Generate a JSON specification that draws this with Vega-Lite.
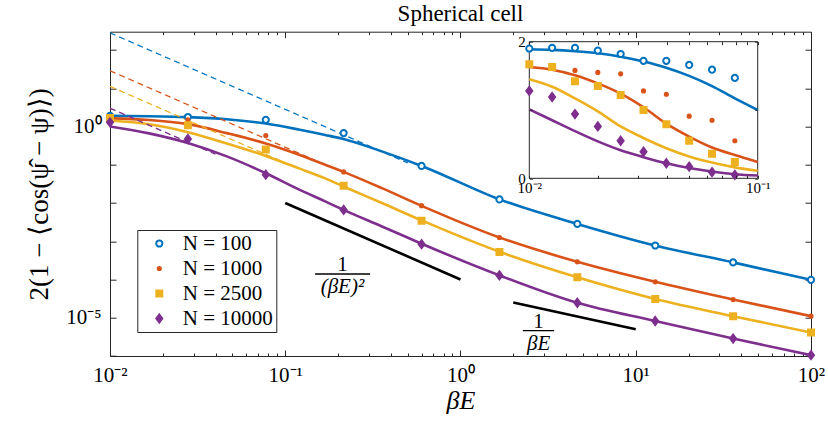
{
 "$schema": "https://vega.github.io/schema/vega-lite/v6.json",
 "width": 701,
 "height": 324.3,
 "autosize": {"type": "none"},
 "padding": {"left": 110, "top": 31.7, "right": 17, "bottom": 65},
 "title": {"text": "Spherical cell", "font": "Liberation Serif", "fontSize": 23, "fontWeight": "normal", "color": "#000000", "offset": 5, "anchor": "middle"},
 "datasets": {
  "lines": [
   {"n":"100","x":0.01,"y":1.89},{"n":"100","x":0.0167,"y":1.85},{"n":"100","x":0.0278,"y":1.75},{"n":"100","x":0.0464,"y":1.54},{"n":"100","x":0.0774,"y":1.19},{"n":"100","x":0.121,"y":0.82},{"n":"100","x":0.169,"y":0.6},{"n":"100","x":0.215,"y":0.47},{"n":"100","x":0.359,"y":0.22},{"n":"100","x":0.6,"y":0.093},{"n":"100","x":1.67,"y":0.0124},{"n":"100","x":4.64,"y":0.00284},{"n":"100","x":12.9,"y":0.000774},{"n":"100","x":35.9,"y":0.00028},{"n":"100","x":100,"y":0.000098},
   {"n":"1000","x":0.01,"y":1.63},{"n":"1000","x":0.0167,"y":1.48},{"n":"1000","x":0.0278,"y":1.15},{"n":"1000","x":0.0464,"y":0.67},{"n":"1000","x":0.0774,"y":0.36},{"n":"1000","x":0.121,"y":0.18},{"n":"1000","x":0.169,"y":0.1},{"n":"1000","x":0.215,"y":0.065},{"n":"1000","x":0.359,"y":0.024},{"n":"1000","x":0.6,"y":0.0084},{"n":"1000","x":1.67,"y":0.00125},{"n":"1000","x":4.64,"y":0.00029},{"n":"1000","x":12.9,"y":0.000087},{"n":"1000","x":35.9,"y":0.00003},{"n":"1000","x":100,"y":0.000011},
   {"n":"2500","x":0.01,"y":1.43},{"n":"2500","x":0.0167,"y":1.14},{"n":"2500","x":0.0278,"y":0.71},{"n":"2500","x":0.0464,"y":0.36},{"n":"2500","x":0.0774,"y":0.17},{"n":"2500","x":0.121,"y":0.079},{"n":"2500","x":0.169,"y":0.044},{"n":"2500","x":0.215,"y":0.027},{"n":"2500","x":0.359,"y":0.0098},{"n":"2500","x":0.6,"y":0.0035},{"n":"2500","x":1.67,"y":0.00053},{"n":"2500","x":4.64,"y":0.000114},{"n":"2500","x":12.9,"y":0.000031},{"n":"2500","x":35.9,"y":0.000011},{"n":"2500","x":100,"y":0.0000041},
   {"n":"10000","x":0.01,"y":1.0},{"n":"10000","x":0.0167,"y":0.66},{"n":"10000","x":0.0278,"y":0.37},{"n":"10000","x":0.0464,"y":0.165},{"n":"10000","x":0.0774,"y":0.06},{"n":"10000","x":0.121,"y":0.022},{"n":"10000","x":0.169,"y":0.011},{"n":"10000","x":0.215,"y":0.0066},{"n":"10000","x":0.359,"y":0.0024},{"n":"10000","x":0.6,"y":0.00086},{"n":"10000","x":1.67,"y":0.000128},{"n":"10000","x":4.64,"y":0.0000246},{"n":"10000","x":12.9,"y":0.0000082},{"n":"10000","x":35.9,"y":0.00000285},{"n":"10000","x":100,"y":0.00000105}
  ],
  "dashed": [
   {"n":"100","x":0.01,"y":280},{"n":"100","x":0.5,"y":0.112},
   {"n":"1000","x":0.01,"y":28.6},{"n":"1000","x":0.15,"y":0.127},
   {"n":"2500","x":0.01,"y":11.2},{"n":"2500","x":0.1,"y":0.112},
   {"n":"10000","x":0.01,"y":3.0},{"n":"10000","x":0.04,"y":0.1875}
  ],
  "markers": [
   {"N":"N = 100","x":0.01,"y":1.9},{"N":"N = 100","x":0.02783,"y":1.77},{"N":"N = 100","x":0.07743,"y":1.49},{"N":"N = 100","x":0.2154,"y":0.67},{"N":"N = 100","x":0.5995,"y":0.093},{"N":"N = 100","x":1.668,"y":0.0124},{"N":"N = 100","x":4.642,"y":0.00284},{"N":"N = 100","x":12.92,"y":0.000774},{"N":"N = 100","x":35.94,"y":0.00028},{"N":"N = 100","x":100,"y":0.000098},
   {"N":"N = 1000","x":0.01,"y":1.68},{"N":"N = 1000","x":0.02783,"y":1.5},{"N":"N = 1000","x":0.07743,"y":0.58},{"N":"N = 1000","x":0.2154,"y":0.065},{"N":"N = 1000","x":0.5995,"y":0.0085},{"N":"N = 1000","x":1.668,"y":0.00125},{"N":"N = 1000","x":4.642,"y":0.00029},{"N":"N = 1000","x":12.92,"y":0.000087},{"N":"N = 1000","x":35.94,"y":0.00003},{"N":"N = 1000","x":100,"y":0.000011},
   {"N":"N = 2500","x":0.01,"y":1.67},{"N":"N = 2500","x":0.02783,"y":1.08},{"N":"N = 2500","x":0.07743,"y":0.25},{"N":"N = 2500","x":0.2154,"y":0.028},{"N":"N = 2500","x":0.5995,"y":0.00345},{"N":"N = 2500","x":1.668,"y":0.00052},{"N":"N = 2500","x":4.642,"y":0.000114},{"N":"N = 2500","x":12.92,"y":0.000031},{"N":"N = 2500","x":35.94,"y":0.000011},{"N":"N = 2500","x":100,"y":0.0000041},
   {"N":"N = 10000","x":0.01,"y":1.28},{"N":"N = 10000","x":0.02783,"y":0.47},{"N":"N = 10000","x":0.07743,"y":0.055},{"N":"N = 10000","x":0.2154,"y":0.0066},{"N":"N = 10000","x":0.5995,"y":0.00084},{"N":"N = 10000","x":1.668,"y":0.000128},{"N":"N = 10000","x":4.642,"y":0.0000246},{"N":"N = 10000","x":12.92,"y":0.0000082},{"N":"N = 10000","x":35.94,"y":0.00000285},{"N":"N = 10000","x":100,"y":0.00000105}
  ],
  "slopes": [
   {"g":"a","x":0.1,"y":0.01},{"g":"a","x":1,"y":0.0001},
   {"g":"b","x":2,"y":0.000025},{"g":"b","x":10,"y":0.000005}
  ],
  "fracs": [
   {"x":0.212,"x1":0.148,"x2":0.305,"y":0.000139,"num":"1","den":"(βE)²"},
   {"x":2.79,"x1":2.27,"x2":3.42,"y":0.00000459,"num":"1","den":"βE"}
  ],
  "insetBox": [{"x1":0.01,"x2":0.1,"y1":0,"y2":2}],
  "insetLines": [
   {"n":"100","x":0.01,"y":1.89},{"n":"100","x":0.012589,"y":1.88},{"n":"100","x":0.015849,"y":1.86},{"n":"100","x":0.019953,"y":1.83},{"n":"100","x":0.025119,"y":1.78},{"n":"100","x":0.031623,"y":1.71},{"n":"100","x":0.039811,"y":1.62},{"n":"100","x":0.050119,"y":1.5},{"n":"100","x":0.063096,"y":1.35},{"n":"100","x":0.079433,"y":1.17},{"n":"100","x":0.1,"y":1.0},
   {"n":"1000","x":0.01,"y":1.63},{"n":"1000","x":0.012589,"y":1.59},{"n":"1000","x":0.015849,"y":1.51},{"n":"1000","x":0.019953,"y":1.39},{"n":"1000","x":0.025119,"y":1.24},{"n":"1000","x":0.031623,"y":1.04},{"n":"1000","x":0.039811,"y":0.8},{"n":"1000","x":0.050119,"y":0.61},{"n":"1000","x":0.063096,"y":0.45},{"n":"1000","x":0.079433,"y":0.34},{"n":"1000","x":0.1,"y":0.24},
   {"n":"2500","x":0.01,"y":1.45},{"n":"2500","x":0.012589,"y":1.34},{"n":"2500","x":0.015849,"y":1.17},{"n":"2500","x":0.019953,"y":0.98},{"n":"2500","x":0.025119,"y":0.76},{"n":"2500","x":0.031623,"y":0.59},{"n":"2500","x":0.039811,"y":0.44},{"n":"2500","x":0.050119,"y":0.32},{"n":"2500","x":0.063096,"y":0.23},{"n":"2500","x":0.079433,"y":0.16},{"n":"2500","x":0.1,"y":0.11},
   {"n":"10000","x":0.01,"y":1.01},{"n":"10000","x":0.012589,"y":0.85},{"n":"10000","x":0.015849,"y":0.69},{"n":"10000","x":0.019953,"y":0.54},{"n":"10000","x":0.025119,"y":0.41},{"n":"10000","x":0.031623,"y":0.31},{"n":"10000","x":0.039811,"y":0.22},{"n":"10000","x":0.050119,"y":0.15},{"n":"10000","x":0.063096,"y":0.1},{"n":"10000","x":0.079433,"y":0.06},{"n":"10000","x":0.1,"y":0.04}
  ],
  "insetMarkers": [
   {"N":"N = 100","x":0.01,"y":1.9},{"N":"N = 100","x":0.012589,"y":1.91},{"N":"N = 100","x":0.015849,"y":1.91},{"N":"N = 100","x":0.019953,"y":1.87},{"N":"N = 100","x":0.025119,"y":1.82},{"N":"N = 100","x":0.031623,"y":1.72},{"N":"N = 100","x":0.039811,"y":1.72},{"N":"N = 100","x":0.050119,"y":1.66},{"N":"N = 100","x":0.063096,"y":1.59},{"N":"N = 100","x":0.079433,"y":1.47},
   {"N":"N = 1000","x":0.01,"y":1.68},{"N":"N = 1000","x":0.012589,"y":1.65},{"N":"N = 1000","x":0.015849,"y":1.58},{"N":"N = 1000","x":0.019953,"y":1.55},{"N":"N = 1000","x":0.025119,"y":1.53},{"N":"N = 1000","x":0.031623,"y":1.28},{"N":"N = 1000","x":0.039811,"y":1.23},{"N":"N = 1000","x":0.050119,"y":0.91},{"N":"N = 1000","x":0.063096,"y":0.85},{"N":"N = 1000","x":0.079433,"y":0.55},
   {"N":"N = 2500","x":0.01,"y":1.67},{"N":"N = 2500","x":0.012589,"y":1.63},{"N":"N = 2500","x":0.015849,"y":1.42},{"N":"N = 2500","x":0.019953,"y":1.35},{"N":"N = 2500","x":0.025119,"y":1.22},{"N":"N = 2500","x":0.031623,"y":1.0},{"N":"N = 2500","x":0.039811,"y":0.79},{"N":"N = 2500","x":0.050119,"y":0.55},{"N":"N = 2500","x":0.063096,"y":0.36},{"N":"N = 2500","x":0.079433,"y":0.24},
   {"N":"N = 10000","x":0.01,"y":1.28},{"N":"N = 10000","x":0.012589,"y":1.19},{"N":"N = 10000","x":0.015849,"y":0.94},{"N":"N = 10000","x":0.019953,"y":0.76},{"N":"N = 10000","x":0.025119,"y":0.55},{"N":"N = 10000","x":0.031623,"y":0.39},{"N":"N = 10000","x":0.039811,"y":0.22},{"N":"N = 10000","x":0.050119,"y":0.17},{"N":"N = 10000","x":0.063096,"y":0.09},{"N":"N = 10000","x":0.079433,"y":0.05}
  ]
 },
 "layer": [
  {
   "data": {"name": "lines"},
   "mark": {"type": "line", "strokeWidth": 2.6, "interpolate": "monotone", "clip": true},
   "encoding": {
    "x": {"field": "x", "type": "quantitative", "scale": {"type": "log", "domain": [0.01, 100], "nice": false},
          "axis": {"orient": "bottom", "values": [0.01, 0.1, 1, 10, 100], "ticks": false, "domain": true, "labelExpr": "'10' + (datum.value < 0.05 ? '⁻²' : datum.value < 0.5 ? '⁻¹' : datum.value < 5 ? '⁰' : datum.value < 50 ? '¹' : '²')", "labelFontSize": 21, "labelPadding": 8, "title": "βE", "titleFontSize": 26, "titleFontStyle": "italic", "titlePadding": 2}},
    "y": {"field": "y", "type": "quantitative", "scale": {"type": "log", "domain": [0.000001, 300], "nice": false},
          "axis": {"orient": "left", "values": [0.000001, 0.00001, 0.0001, 0.001, 0.01, 0.1, 1, 10, 100], "ticks": false, "domain": true, "labelExpr": "datum.value == 1 ? '10⁰' : (datum.value == 0.00001 ? '10⁻⁵' : '')", "labelFontSize": 21, "labelPadding": 9, "title": "2(1 − ⟨cos(ψ̂ − ψ)⟩)    ", "titleFontSize": 27, "titlePadding": 12}},
    "color": {"field": "n", "type": "nominal", "scale": {"domain": ["100", "1000", "2500", "10000"], "range": ["#0072BD", "#D95319", "#EDB120", "#7E2F8E"]}, "legend": null}
   }
  },
  {
   "data": {"name": "dashed"},
   "mark": {"type": "line", "strokeWidth": 1.3, "strokeDash": [6, 4], "clip": true},
   "encoding": {
    "x": {"field": "x", "type": "quantitative", "scale": {"type": "log", "domain": [0.01, 100], "nice": false},
          "axis": {"orient": "bottom", "values": [0.01, 0.1, 1, 10, 100], "tickSize": -6, "labels": false, "domain": false, "title": null}},
    "y": {"field": "y", "type": "quantitative", "scale": {"type": "log", "domain": [0.000001, 300], "nice": false},
          "axis": {"orient": "left", "values": [0.000001, 0.00001, 0.0001, 0.001, 0.01, 0.1, 1, 10, 100], "tickSize": -6, "labels": false, "domain": false, "title": null}},
    "color": {"field": "n", "type": "nominal", "scale": {"domain": ["100", "1000", "2500", "10000"], "range": ["#0072BD", "#D95319", "#EDB120", "#7E2F8E"]}, "legend": null}
   }
  },
  {
   "data": {"name": "slopes"},
   "mark": {"type": "line", "strokeWidth": 2.6, "color": "#000000"},
   "encoding": {
    "x": {"field": "x", "type": "quantitative", "scale": {"type": "log", "domain": [0.01, 100], "nice": false},
          "axis": {"orient": "bottom", "values": [0.02,0.03,0.04,0.05,0.06,0.07,0.08,0.09,0.2,0.3,0.4,0.5,0.6,0.7,0.8,0.9,2,3,4,5,6,7,8,9,20,30,40,50,60,70,80,90], "tickSize": -3, "labels": false, "domain": false, "title": null}},
    "y": {"field": "y", "type": "quantitative", "scale": {"type": "log", "domain": [0.000001, 300], "nice": false},
          "axis": {"orient": "right", "values": [0.000001, 0.00001, 0.0001, 0.001, 0.01, 0.1, 1, 10, 100], "tickSize": -6, "labels": false, "domain": true, "title": null}},
    "detail": {"field": "g", "type": "nominal"}
   }
  },
  {
   "data": {"name": "fracs"},
   "mark": {"type": "rule", "strokeWidth": 1.3, "color": "#000000"},
   "encoding": {
    "x": {"field": "x1", "type": "quantitative", "scale": {"type": "log", "domain": [0.01, 100], "nice": false},
          "axis": {"orient": "top", "values": [0.01, 0.1, 1, 10, 100], "tickSize": -6, "labels": false, "domain": true, "title": null}},
    "x2": {"field": "x2"},
    "y": {"field": "y", "type": "quantitative", "scale": {"type": "log", "domain": [0.000001, 300], "nice": false}, "axis": null}
   }
  },
  {
   "data": {"name": "fracs"},
   "mark": {"type": "text", "font": "Liberation Serif", "fontSize": 21, "baseline": "alphabetic", "dy": -3, "color": "#000000"},
   "encoding": {
    "x": {"field": "x", "type": "quantitative", "scale": {"type": "log", "domain": [0.01, 100], "nice": false},
          "axis": {"orient": "top", "values": [0.02,0.03,0.04,0.05,0.06,0.07,0.08,0.09,0.2,0.3,0.4,0.5,0.6,0.7,0.8,0.9,2,3,4,5,6,7,8,9,20,30,40,50,60,70,80,90], "tickSize": -3, "labels": false, "domain": false, "title": null}},
    "y": {"field": "y", "type": "quantitative", "scale": {"type": "log", "domain": [0.000001, 300], "nice": false}, "axis": null},
    "text": {"field": "num"}
   }
  },
  {
   "data": {"name": "fracs"},
   "mark": {"type": "text", "font": "Liberation Serif", "fontSize": 21, "fontStyle": "italic", "baseline": "alphabetic", "dy": 19, "color": "#000000"},
   "encoding": {
    "x": {"field": "x", "type": "quantitative", "scale": {"type": "log", "domain": [0.01, 100], "nice": false}, "axis": null},
    "y": {"field": "y", "type": "quantitative", "scale": {"type": "log", "domain": [0.000001, 300], "nice": false}, "axis": null},
    "text": {"field": "den"}
   }
  },
  {
   "data": {"name": "markers"},
   "mark": {"type": "point", "filled": true, "strokeWidth": 2, "opacity": 1},
   "encoding": {
    "x": {"field": "x", "type": "quantitative", "scale": {"type": "log", "domain": [0.01, 100], "nice": false}, "axis": null},
    "y": {"field": "y", "type": "quantitative", "scale": {"type": "log", "domain": [0.000001, 300], "nice": false}, "axis": null},
    "shape": {"field": "N", "type": "nominal", "scale": {"domain": ["N = 100", "N = 1000", "N = 2500", "N = 10000"], "range": ["circle", "circle", "square", "M0,-1L0.75,0L0,1L-0.75,0Z"]}, "legend": {"title": null, "orient": "none", "legendX": 27.3, "legendY": 198.3, "zindex": 2, "labelFont": "Liberation Serif", "labelFontSize": 21, "rowPadding": 3}},
    "fill": {"field": "N", "type": "nominal", "scale": {"domain": ["N = 100", "N = 1000", "N = 2500", "N = 10000"], "range": ["#ffffff", "#D95319", "#EDB120", "#7E2F8E"]}, "legend": {"title": null, "orient": "none", "legendX": 27.3, "legendY": 198.3, "zindex": 2, "labelFont": "Liberation Serif", "labelFontSize": 21, "rowPadding": 3}},
    "stroke": {"field": "N", "type": "nominal", "scale": {"domain": ["N = 100", "N = 1000", "N = 2500", "N = 10000"], "range": ["#0072BD", "#D95319", "#EDB120", "#7E2F8E"]}, "legend": {"title": null, "orient": "none", "legendX": 27.3, "legendY": 198.3, "zindex": 2, "labelFont": "Liberation Serif", "labelFontSize": 21, "rowPadding": 3}},
    "size": {"field": "N", "type": "nominal", "scale": {"type": "ordinal", "domain": ["N = 100", "N = 1000", "N = 2500", "N = 10000"], "range": [38, 10, 36, 64]}, "legend": {"title": null, "orient": "none", "legendX": 27.3, "legendY": 198.3, "zindex": 2, "labelFont": "Liberation Serif", "labelFontSize": 21, "rowPadding": 3}}
   }
  },
  {
   "data": {"name": "insetBox"},
   "mark": {"type": "rect", "fill": "#ffffff", "stroke": "#262626", "strokeWidth": 1},
   "encoding": {
    "x": {"field": "x1", "type": "quantitative", "scale": {"type": "log", "domain": [0.01, 0.1], "range": [419.3, 647.7], "nice": false},
          "axis": {"orient": "bottom", "offset": -177.7, "zindex": 1, "values": [0.01, 0.1], "ticks": false, "domain": false, "labelExpr": "datum.value < 0.05 ? '10⁻²' : '10⁻¹'", "labelFontSize": 15, "labelPadding": 2, "title": null}},
    "x2": {"field": "x2"},
    "y": {"field": "y1", "type": "quantitative", "scale": {"type": "linear", "domain": [0, 2], "range": [146.6, 10], "nice": false, "zero": false},
          "axis": {"orient": "left", "offset": -419.3, "zindex": 1, "values": [0, 1, 2], "format": "d", "ticks": false, "domain": false, "labelFontSize": 15, "labelPadding": 4, "title": null}},
    "y2": {"field": "y2"}
   }
  },
  {
   "data": {"name": "insetLines"},
   "mark": {"type": "line", "strokeWidth": 2.6, "interpolate": "monotone"},
   "encoding": {
    "x": {"field": "x", "type": "quantitative", "scale": {"type": "log", "domain": [0.01, 0.1], "range": [419.3, 647.7], "nice": false},
          "axis": {"orient": "bottom", "offset": -177.7, "zindex": 1, "values": [0.01,0.02,0.03,0.04,0.05,0.06,0.07,0.08,0.09,0.1], "tickSize": -3, "labels": false, "domain": false, "title": null}},
    "y": {"field": "y", "type": "quantitative", "scale": {"type": "linear", "domain": [0, 2], "range": [146.6, 10], "nice": false, "zero": false},
          "axis": {"orient": "left", "offset": -419.3, "zindex": 1, "values": [0, 1, 2], "tickSize": -3, "labels": false, "domain": false, "title": null}},
    "color": {"field": "n", "type": "nominal", "scale": {"domain": ["100", "1000", "2500", "10000"], "range": ["#0072BD", "#D95319", "#EDB120", "#7E2F8E"]}, "legend": null}
   }
  },
  {
   "data": {"name": "insetMarkers"},
   "mark": {"type": "point", "filled": true, "strokeWidth": 2, "opacity": 1},
   "encoding": {
    "x": {"field": "x", "type": "quantitative", "scale": {"type": "log", "domain": [0.01, 0.1], "range": [419.3, 647.7], "nice": false},
          "axis": {"orient": "top", "offset": -10, "zindex": 1, "values": [0.01,0.02,0.03,0.04,0.05,0.06,0.07,0.08,0.09,0.1], "tickSize": -3, "labels": false, "domain": false, "title": null}},
    "y": {"field": "y", "type": "quantitative", "scale": {"type": "linear", "domain": [0, 2], "range": [146.6, 10], "nice": false, "zero": false},
          "axis": {"orient": "right", "offset": -53.3, "zindex": 1, "values": [0, 1, 2], "tickSize": -3, "labels": false, "domain": false, "title": null}},
    "shape": {"field": "N", "type": "nominal", "scale": {"domain": ["N = 100", "N = 1000", "N = 2500", "N = 10000"], "range": ["circle", "circle", "square", "M0,-1L0.75,0L0,1L-0.75,0Z"]}, "legend": {"title": null, "orient": "none", "legendX": 27.3, "legendY": 198.3, "zindex": 2, "labelFont": "Liberation Serif", "labelFontSize": 21, "rowPadding": 3}},
    "fill": {"field": "N", "type": "nominal", "scale": {"domain": ["N = 100", "N = 1000", "N = 2500", "N = 10000"], "range": ["#ffffff", "#D95319", "#EDB120", "#7E2F8E"]}, "legend": {"title": null, "orient": "none", "legendX": 27.3, "legendY": 198.3, "zindex": 2, "labelFont": "Liberation Serif", "labelFontSize": 21, "rowPadding": 3}},
    "stroke": {"field": "N", "type": "nominal", "scale": {"domain": ["N = 100", "N = 1000", "N = 2500", "N = 10000"], "range": ["#0072BD", "#D95319", "#EDB120", "#7E2F8E"]}, "legend": {"title": null, "orient": "none", "legendX": 27.3, "legendY": 198.3, "zindex": 2, "labelFont": "Liberation Serif", "labelFontSize": 21, "rowPadding": 3}},
    "size": {"field": "N", "type": "nominal", "scale": {"type": "ordinal", "domain": ["N = 100", "N = 1000", "N = 2500", "N = 10000"], "range": [38, 10, 36, 64]}, "legend": {"title": null, "orient": "none", "legendX": 27.3, "legendY": 198.3, "zindex": 2, "labelFont": "Liberation Serif", "labelFontSize": 21, "rowPadding": 3}}
   }
  }
 ],
 "resolve": {"scale": {"x": "independent", "y": "independent"}},
 "config": {
  "font": "Liberation Serif",
  "view": {"stroke": null},
  "axis": {"grid": false, "labelFont": "Liberation Serif", "titleFont": "Liberation Serif", "labelColor": "#000000", "titleColor": "#000000", "domainColor": "#262626", "tickColor": "#262626", "titleFontWeight": "normal", "labelOverlap": false, "labelFlush": false},
  "legend": {"padding": 3, "rowPadding": 3, "symbolOffset": 8.5, "labelOffset": 13, "labelFont": "Liberation Serif", "labelFontSize": 21, "labelColor": "#000000", "strokeColor": "#262626", "fillColor": "#ffffff", "symbolStrokeWidth": 2}
 }
}
